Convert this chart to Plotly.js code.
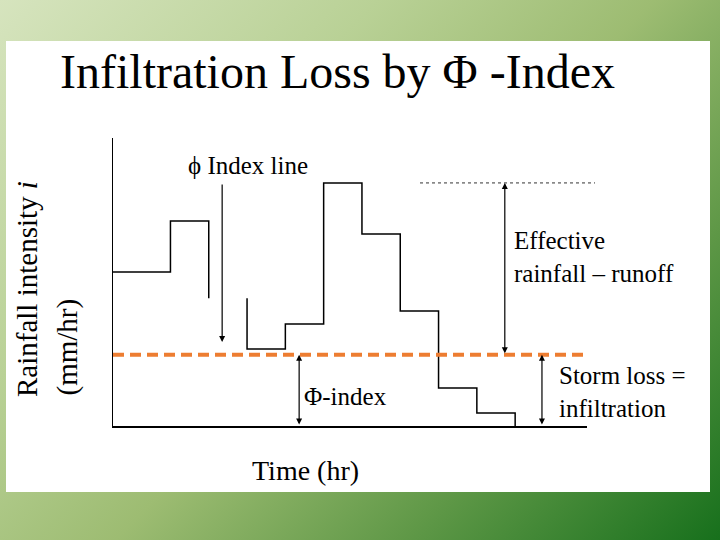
<!DOCTYPE html>
<html>
<head>
<meta charset="utf-8">
<script src="https://cdn.plot.ly/plotly-3.0.1.min.js"></script>
<style>
  html, body { margin: 0; padding: 0; }
  body {
    width: 720px; height: 540px; overflow: hidden; position: relative;
    background: linear-gradient(135deg, #d6e4be 0%, #b9d196 30%, #9dbc72 52%, #5f9847 75%, #17701c 100%);
  }
  #chart { position: absolute; left: 6px; top: 41px; width: 704px; height: 451px; }
</style>
</head>
<body>
<div id="chart"></div>
<script>
// ---- data (time in hr, rainfall intensity in mm/hr) ----
// first part of the hyetograph (before the break where the arrow passes)
var timeA = [0, 1.5, 2.5];
var intensityA = [5.35, 7.12, 4.44];
// second part of the hyetograph
var timeB = [3.5, 3.5, 4.5, 5.5, 6.5, 7.5, 8.5, 9.5, 10.5];
var intensityB = [4.44, 2.67, 3.54, 8.44, 6.67, 3.99, 1.32, 0.45, 0];
// phi-index level
var phiIndex = 2.47;
// axis extents
var timeMax = 12.376;
var intensityMax = 10;

var peak = Math.max.apply(null, intensityB.concat(intensityA));

var serif = 'Liberation Serif, Times New Roman, serif';

var traces = [
  {x: timeA, y: intensityA, mode: 'lines', line: {shape: 'hv', color: '#000', width: 1.5},
   hoverinfo: 'skip', showlegend: false},
  {x: timeB, y: intensityB, mode: 'lines', line: {shape: 'hv', color: '#000', width: 1.5},
   hoverinfo: 'skip', showlegend: false},
  {x: [0, timeMax], y: [phiIndex, phiIndex], mode: 'lines',
   line: {color: '#ED7D31', width: 4, dash: '11px,6px'}, hoverinfo: 'skip', showlegend: false}
];

function px2paperX(px) { return (px - 113) / 474; }
function px2paperY(py) { return (426 - py) / 288; }

function dblArrow(x, yHead, yTail, sides) {
  return {x: x, y: yHead, ax: x, ay: yTail, xref: 'x', yref: 'y', axref: 'x', ayref: 'y',
          text: '', showarrow: true, arrowhead: 2, arrowsize: 1, arrowwidth: 1.2,
          arrowcolor: '#000', arrowside: sides, standoff: 0, startstandoff: 0};
}

var annotations = [
  {text: 'ϕ Index line', xref: 'paper', yref: 'paper', x: px2paperX(186), y: px2paperY(165),
   xanchor: 'left', yanchor: 'middle', showarrow: false, font: {family: serif, size: 25, color: '#000'}},
  {text: 'Effective<br>rainfall – runoff', xref: 'paper', yref: 'paper', x: px2paperX(512), y: px2paperY(257),
   xanchor: 'left', yanchor: 'middle', align: 'left', showarrow: false, font: {family: serif, size: 25, color: '#000'}},
  {text: 'Storm loss =<br>infiltration', xref: 'paper', yref: 'paper', x: px2paperX(557), y: px2paperY(392),
   xanchor: 'left', yanchor: 'middle', align: 'left', showarrow: false, font: {family: serif, size: 25, color: '#000'}},
  {text: 'Φ-index', xref: 'paper', yref: 'paper', x: px2paperX(302), y: px2paperY(396),
   xanchor: 'left', yanchor: 'middle', showarrow: false, font: {family: serif, size: 25, color: '#000'}},
  {text: 'Time (hr)', xref: 'paper', yref: 'paper', x: px2paperX(250), y: px2paperY(470),
   xanchor: 'left', yanchor: 'middle', showarrow: false, font: {family: serif, size: 28, color: '#000'}},
  {text: 'Rainfall intensity <i>i</i>', xref: 'paper', yref: 'paper', x: px2paperX(27), y: px2paperY(289),
   xanchor: 'center', yanchor: 'middle', textangle: -90, showarrow: false, font: {family: serif, size: 29, color: '#000'}},
  {text: '(mm/hr)', xref: 'paper', yref: 'paper', x: px2paperX(67), y: px2paperY(347.5),
   xanchor: 'center', yanchor: 'middle', textangle: -90, showarrow: false, font: {family: serif, size: 29, color: '#000'}},
  // arrows
  Object.assign(dblArrow(2.85, phiIndex + 0.45, peak, 'end'), {}),
  dblArrow(10.23, peak, phiIndex, 'end+start'),
  dblArrow(11.2, phiIndex, 0, 'end+start'),
  dblArrow(4.86, phiIndex, 0, 'end+start')
];

var shapes = [
  {type: 'line', xref: 'paper', yref: 'y', x0: px2paperX(420), x1: px2paperX(595), y0: peak, y1: peak,
   line: {color: '#333', width: 1, dash: 'dot'}}
];

var layout = {
  width: 704, height: 451,
  margin: {l: 107, r: 123, t: 97, b: 66, pad: 0},
  paper_bgcolor: '#ffffff', plot_bgcolor: 'rgba(0,0,0,0)',
  title: {text: 'Infiltration Loss by Φ -Index', xref: 'container', yref: 'container',
          x: 54 / 704, xanchor: 'left', y: 1 - 30.5 / 451, yanchor: 'middle',
          font: {family: serif, size: 48, color: '#000'}},
  xaxis: {range: [0, timeMax], showgrid: false, zeroline: false, showticklabels: false, ticks: '',
          showline: true, linecolor: '#000', linewidth: 1.5, fixedrange: true},
  yaxis: {range: [0, intensityMax], showgrid: false, zeroline: false, showticklabels: false, ticks: '',
          showline: true, linecolor: '#000', linewidth: 1.5, fixedrange: true},
  annotations: annotations,
  shapes: shapes,
  showlegend: false
};

Plotly.newPlot('chart', traces, layout, {displayModeBar: false, staticPlot: true});
</script>
</body>
</html>
